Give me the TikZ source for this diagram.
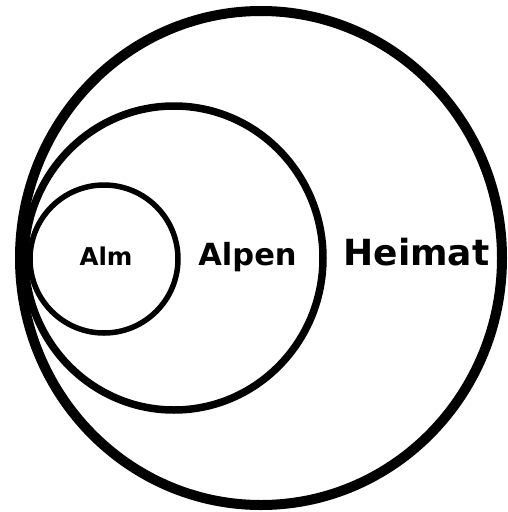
\documentclass[tikz,border=0pt]{standalone}
\usepackage{fontspec}
\setmainfont{DejaVu Sans}
\begin{document}
\begin{tikzpicture}[x=1pt,y=-1pt,
  ring/.style={draw=black},
  lbl/.style={anchor=base,inner sep=0pt,font=\bfseries}]
\useasboundingbox[fill=white] (0,0) rectangle (507,512);
\draw[ring,line width=10pt] (261,258) ellipse [x radius=241, y radius=247];
\draw[ring,line width=7.5pt] (174,258) ellipse [x radius=149, y radius=152];
\draw[ring,line width=5.5pt] (104,259) circle [radius=74];
\node[lbl,font=\bfseries\fontsize{24.5}{28}\selectfont] (alm) at (106,265) {Alm};
\node[lbl,font=\bfseries\fontsize{30.5}{36}\selectfont] (alpen) at (247.5,265) {Alpen};
\node[lbl,font=\bfseries\fontsize{36}{42}\selectfont] (heimat) at (416.5,265) {Heimat};
\end{tikzpicture}
\end{document}
